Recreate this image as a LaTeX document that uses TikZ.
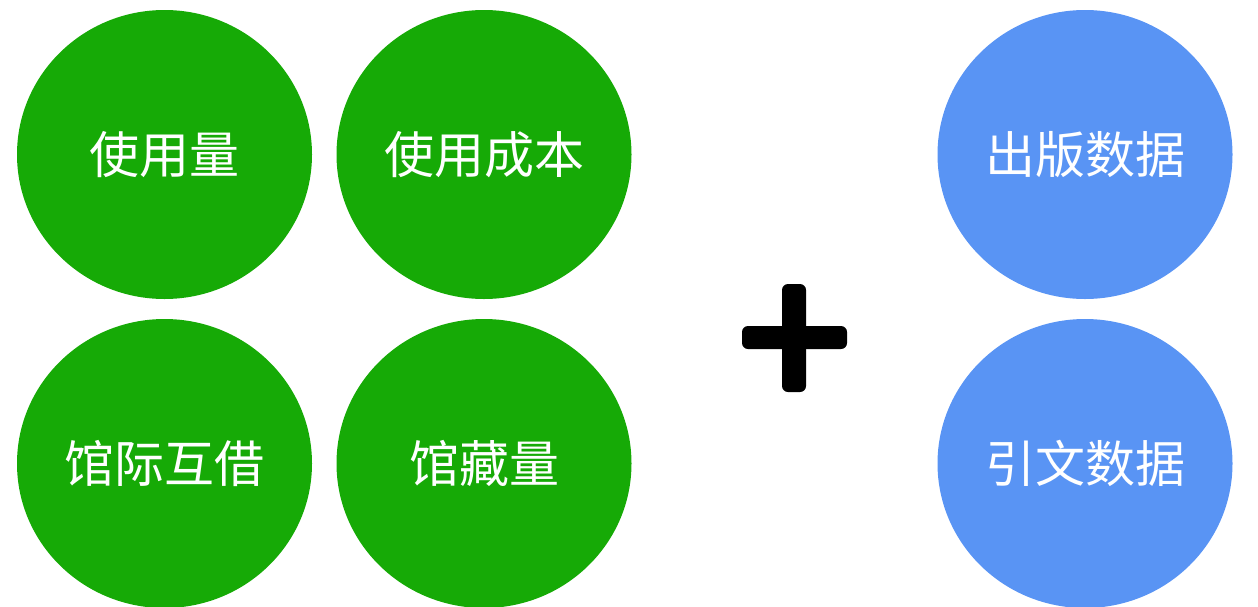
\documentclass[tikz,border=0pt]{standalone}
\usepackage{fontspec}
\newfontfamily\cjk{Noto Sans CJK SC}
\usetikzlibrary{shapes.geometric}
\definecolor{cgreen}{HTML}{16AA06}
\definecolor{cblue}{HTML}{5994F4}
\tikzset{
  bubble/.style={ellipse, minimum width=295pt, minimum height=289pt, inner sep=0pt,
    text=white, font=\cjk\fontsize{50}{58}\selectfont},
  gbubble/.style={bubble, fill=cgreen},
  bbubble/.style={bubble, fill=cblue},
  plusbar/.style={fill=black, rounded corners=6pt}
}
\begin{document}
\begin{tikzpicture}[x=1pt,y=-1pt]
\useasboundingbox (0,0) rectangle (1258,606);
\node[gbubble] (use) at (164.5,154.5) {使用量};
\node[gbubble] (cost) at (484,154.5) {使用成本};
\node[gbubble] (ill) at (164.5,463.5) {馆际互借};
\node[gbubble] (hold) at (484,463.5) {馆藏量};
\node[bbubble] (pub) at (1085,154.5) {出版数据};
\node[bbubble] (cite) at (1085,463.5) {引文数据};
\fill[plusbar] (782,284) rectangle (806,392);
\fill[plusbar] (742,326) rectangle (847,349);
\end{tikzpicture}
\end{document}
